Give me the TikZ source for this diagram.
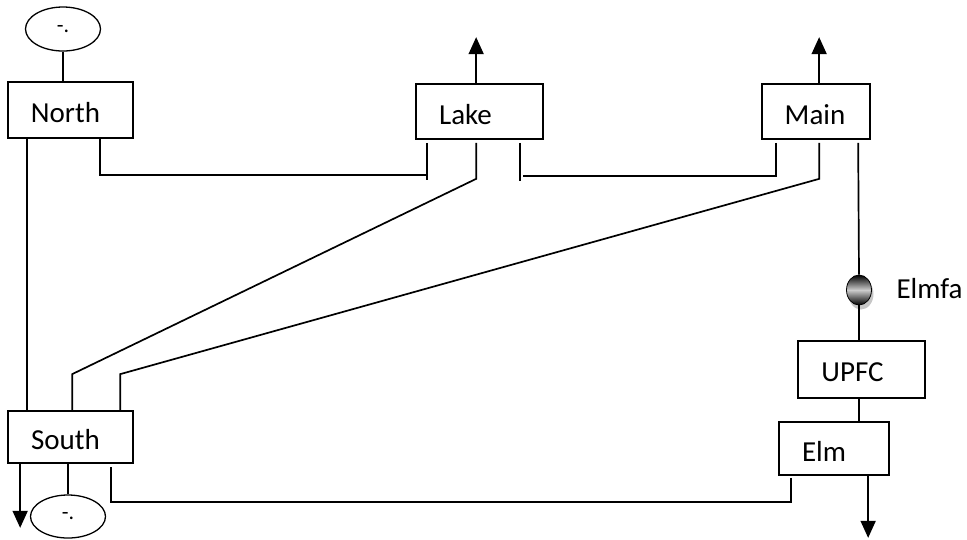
\documentclass[tikz,border=0pt]{standalone}
\usepackage{fontspec}
\setmainfont{Carlito}
\usetikzlibrary{arrows.meta,shapes.geometric,calc}
\begin{document}
\begin{tikzpicture}[x=1pt,y=-1pt,
  every node/.style={font=\fontsize{29}{34}\selectfont},
  wire/.style={line width=1.7pt,black},
  arr/.style={wire,-{Triangle[width=15pt,length=17pt]}},
  box/.style={draw,line width=1.7pt,rectangle,inner sep=0pt},
  oval/.style={draw,line width=1.3pt,ellipse,inner sep=0pt,font=\fontsize{22}{24}\selectfont}]
\useasboundingbox (0,0) rectangle (967,539);
% nodes
\node[oval,minimum width=75,minimum height=44] (eN) at (63,29) {-.};
\node[box,minimum width=125,minimum height=56,label={[xshift=-5,yshift=-3]center:North}] (North) at (70.5,110) {};
\node[box,minimum width=127,minimum height=55,label={[xshift=-14,yshift=-3]center:Lake}] (Lake) at (479.5,111.5) {};
\node[box,minimum width=108,minimum height=55,label={[xshift=-1,yshift=-3]center:Main}] (Main) at (816,111.5) {};
\node[ellipse,inner sep=0pt,minimum width=25,minimum height=31,fill=gray!45,draw=none] (shadow) at (861,294) {};
\node[ellipse,inner sep=0pt,minimum width=25,minimum height=30,draw=black,line width=0.8pt,
  top color=black,bottom color=black,middle color=gray!40] (Elmfa) at (859,290) {};
\node[anchor=west] (ElmfaL) at (893,289) {Elmfa};
\node[box,minimum width=127,minimum height=57,label={[xshift=-9,yshift=-3]center:UPFC}] (UPFC) at (861.5,369.5) {};
\node[box,minimum width=110,minimum height=53,label={[xshift=-10,yshift=-3]center:Elm}] (Elm) at (834,448.5) {};
\node[box,minimum width=125,minimum height=52,label={[xshift=-5,yshift=-3]center:South}] (South) at (70.5,437) {};
\node[oval,minimum width=75,minimum height=43] (eS) at (68,516.5) {-.};
% helper coordinates
\coordinate (nL) at ($(North.south west)+(20,0)$);
\coordinate (nR) at ($(North.south west)+(93,0)$);
\coordinate (lA) at ($(Lake.south west)+(12,3)$);
\coordinate (lB) at ($(Lake.south west)+(61,3)$);
\coordinate (lC) at ($(Lake.south west)+(105,3)$);
\coordinate (mA) at ($(Main.south west)+(15,3)$);
\coordinate (mB) at ($(Main.south west)+(58,3)$);
\coordinate (mC) at ($(Main.south west)+(97,3)$);
\coordinate (sA) at ($(South.north west)+(20,0)$);
\coordinate (sB) at ($(South.north west)+(65,0)$);
\coordinate (sC) at ($(South.north west)+(113,0)$);
\coordinate (sD) at ($(South.south west)+(13,0)$);
\coordinate (sE) at ($(South.south west)+(104,3)$);
\coordinate (eA) at ($(Elm.south west)+(13,2)$);
% connectors
\draw[wire] (eN.south) -- (eN.south |- North.north);
\draw[wire] (nL) -- (sA);
\draw[wire] (nR) |- (428,175) coordinate (jL);
\draw[wire] (lA) -- ($(lA)+(0,37)$);
\draw[wire] (lB) -- ($(lB)+(0,36)$) -- ($(sB)+(0,-36)$) -- (sB);
\draw[wire] (lC) -- ($(lC)+(0,38)$);
\draw[wire] ($(lC)+(3,33)$) -- ($(mA)+(0,33)$);
\draw[wire] (mA) -- ($(mA)+(0,34)$);
\draw[wire] (mB) -- ($(mB)+(0,36)$) -- ($(sC)+(0,-36)$) -- (sC);
\draw[wire] (mC) -- (Elmfa.north);
\draw[wire] (Elmfa.south) -- (UPFC.north -| Elmfa.south);
\draw[wire] (UPFC.south -| Elmfa.south) -- (Elm.north -| Elmfa.south);
\draw[arr] (Lake.north -| lB) -- ++(0,-46);
\draw[arr] (Main.north -| mB) -- ++(0,-46);
\draw[arr] ($(Elm.south west)+(90,0)$) -- ++(0,62);
\draw[arr] (sD) -- ++(0,64);
\draw[wire] (South.south -| eS.north) -- (eS.north);
\draw[wire] (eA) |- ($(sE)+(0,35)$) -- (sE);
\end{tikzpicture}
\end{document}
